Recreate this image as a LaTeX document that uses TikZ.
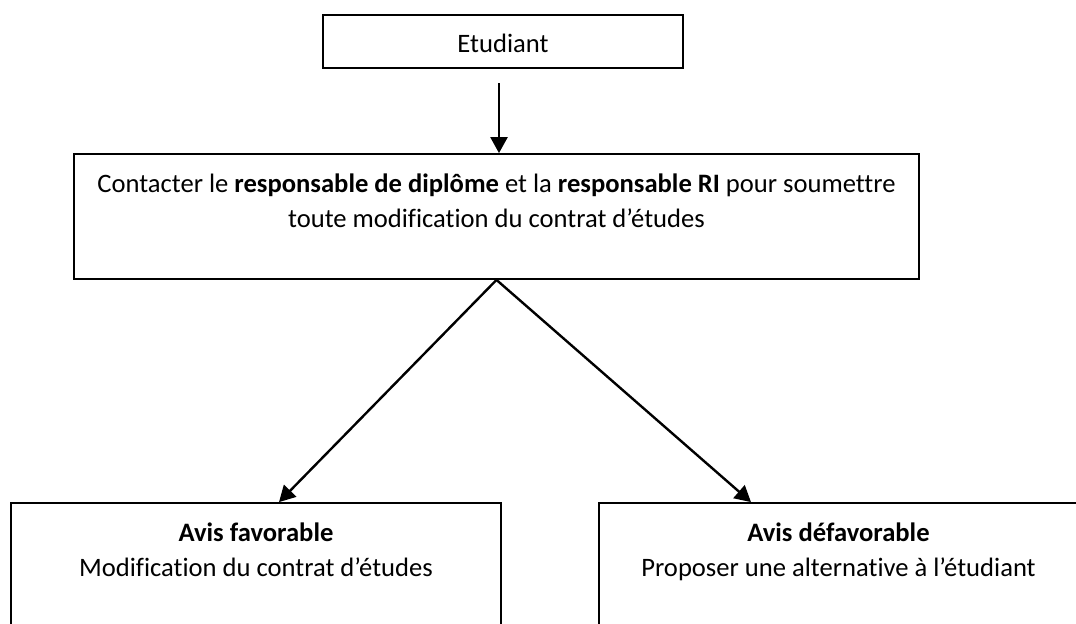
\documentclass[tikz,border=0pt]{standalone}
\usepackage{fontspec}
\setmainfont[Ligatures=NoCommon]{Carlito}
\usetikzlibrary{arrows.meta}

\begin{document}
\begin{tikzpicture}[x=0.5pt,y=-0.5pt,
        box/.style={draw,line width=0.9pt,inner sep=0pt},
        txt/.style={align=center,inner sep=0pt,anchor=base,font=\fontsize{13.3}{17.5}\selectfont},
        arrow/.style={-{Triangle[length=8pt,width=8.5pt]},line width=1.2pt}]
        \useasboundingbox (0,0) rectangle (1076,623);

        % boxes
        \node[box,minimum width=180pt,minimum height=26.5pt] at (503,41.5) (etu) {};
        \node[box,minimum width=422.5pt,minimum height=62.5pt] at (496.5,216.5) (con) {};
        \node[box,minimum width=245pt,minimum height=68pt] at (256,571) (fav) {};
        \node[box,minimum width=239.5pt,minimum height=68pt] at (838.5,571) (def) {};

        % texts (base = last line)
        \node[txt] at (503,52) (etu text) {Etudiant};
        \node[txt] at (496.5,227) (con text) {Contacter le \textbf{responsable de diplôme} et la \textbf{responsable RI} pour soumettre\\
            toute modification du contrat d’études};
        \node[txt] at (256,576) (fav text) {\textbf{Avis favorable}\\Modification du contrat d’études};
        \node[txt] at (838.5,576) (def text) {\textbf{Avis défavorable}\\Proposer une alternative à l’étudiant};

        \coordinate (start) at (499,83);
        \draw[arrow] (start) -- (start |- con.north);
        \draw[arrow] (con.south) -- ([xshift=11.5pt]fav.north);
        \draw[arrow] (con.south) -- ([xshift=-43.75pt]def.north);
        \end{tikzpicture}
\end{document}
